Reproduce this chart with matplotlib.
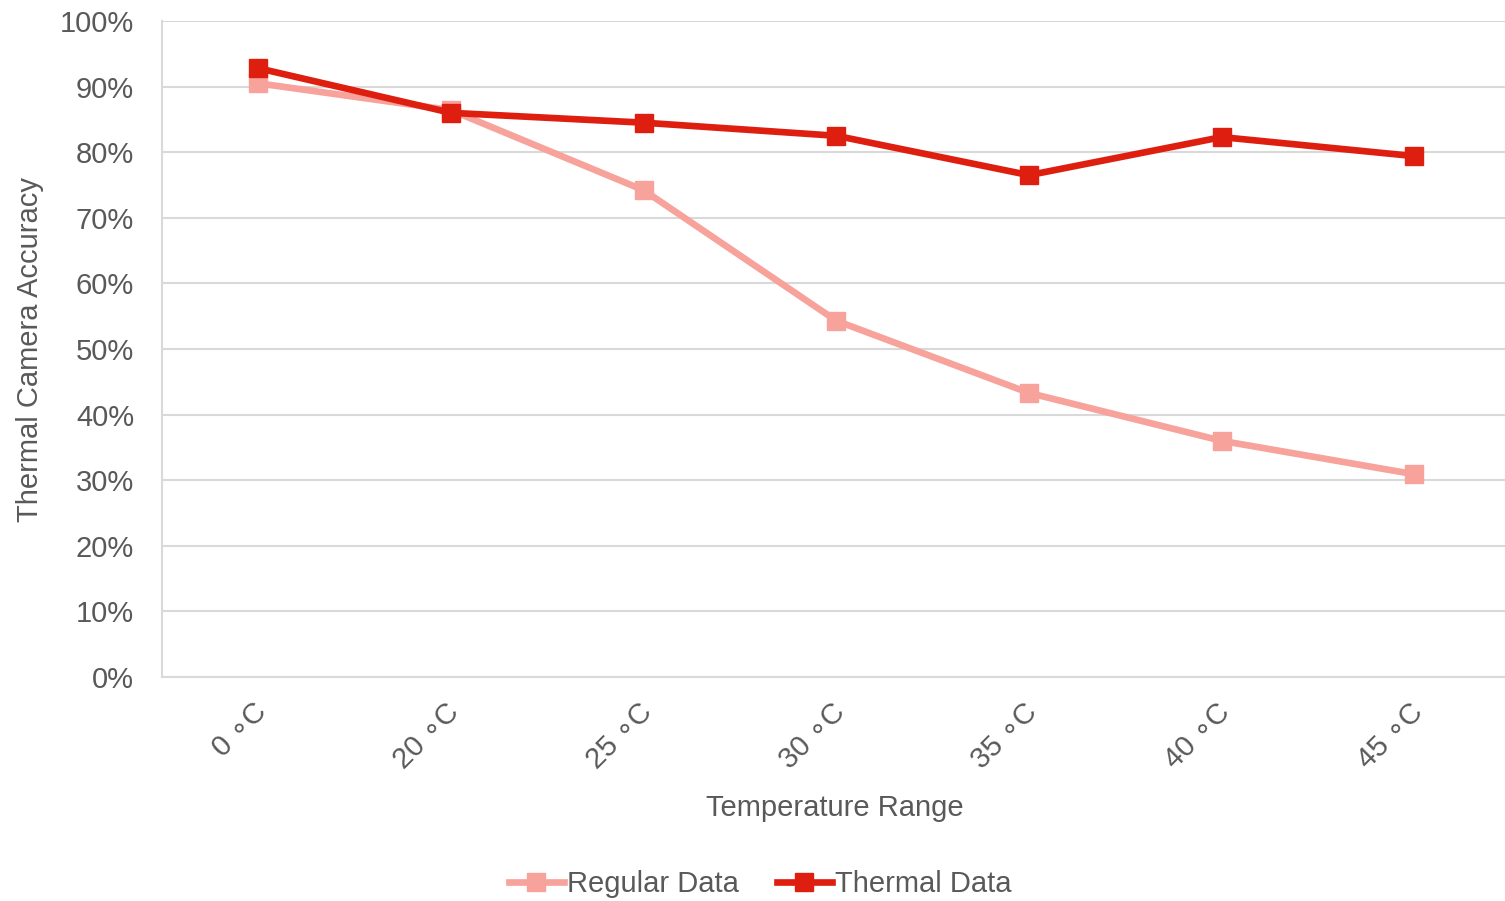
import matplotlib
matplotlib.use("Agg")
import matplotlib.pyplot as plt
import matplotlib.transforms as mtransforms
from matplotlib.ticker import PercentFormatter

# datos
categorias = ["0 \u2218C", "20 \u2218C", "25 \u2218C", "30 \u2218C", "35 \u2218C", "40 \u2218C", "45 \u2218C"]
regular_data = [90.5, 86.4, 74.2, 54.3, 43.3, 36.0, 30.9]
thermal_data = [92.8, 86.0, 84.5, 82.5, 76.5, 82.3, 79.4]

color_regular = "#F7A29B"
color_thermal = "#DE1F10"
color_texto = "#595959"

plt.rcParams["font.family"] = ["Liberation Sans", "DejaVu Sans"]

fig = plt.figure(figsize=(15.05, 9.01), dpi=100)
ax = fig.add_axes([162 / 1505, 1 - 677 / 901, 1 - 162 / 1505, (677 - 21) / 901])

x = list(range(len(categorias)))
ax.plot(x, regular_data, color=color_regular, lw=4.8, marker="s", ms=13,
        label="Regular Data", clip_on=False, zorder=3)
ax.plot(x, thermal_data, color=color_thermal, lw=4.8, marker="s", ms=13,
        label="Thermal Data", clip_on=False, zorder=4)

ax.set_xlim(-0.5, 6.47)
ax.set_ylim(0, 100)
ax.set_yticks(range(0, 101, 10))
ax.yaxis.set_major_formatter(PercentFormatter(decimals=0))
ax.grid(axis="y", color="#D9D9D9", lw=1.5)
ax.set_axisbelow(True)

for s in ["top", "right"]:
    ax.spines[s].set_visible(False)
ax.spines["left"].set_color("#D9D9D9")
ax.spines["left"].set_linewidth(1.5)
ax.spines["bottom"].set_color("#D9D9D9")
ax.spines["bottom"].set_linewidth(1.5)

ax.tick_params(axis="both", length=0, labelsize=21, labelcolor=color_texto)
ax.tick_params(axis="y", pad=20)
ax.set_xticks(x)
ax.set_xticklabels(categorias, rotation=45, ha="right", va="center",
                   rotation_mode="anchor")
ax.tick_params(axis="x", pad=22)
offset = mtransforms.ScaledTranslation(4 / 100, 0, fig.dpi_scale_trans)
for lbl in ax.get_xticklabels():
    lbl.set_transform(lbl.get_transform() + offset)

fig.text(30 / 1505, 1 - 350 / 901, "Thermal Camera Accuracy", rotation=90,
         ha="center", va="center", fontsize=21, color=color_texto)
fig.text(835 / 1505, 1 - 808 / 901, "Temperature Range",
         ha="center", va="center", fontsize=21, color=color_texto)

fig.legend(loc="center", bbox_to_anchor=(760 / 1505, 1 - 884 / 901), ncol=2,
           frameon=False, fontsize=21, labelcolor=color_texto,
           handlelength=1.9, handletextpad=0.1, columnspacing=1.3)

fig.savefig("out.png", dpi=100)
